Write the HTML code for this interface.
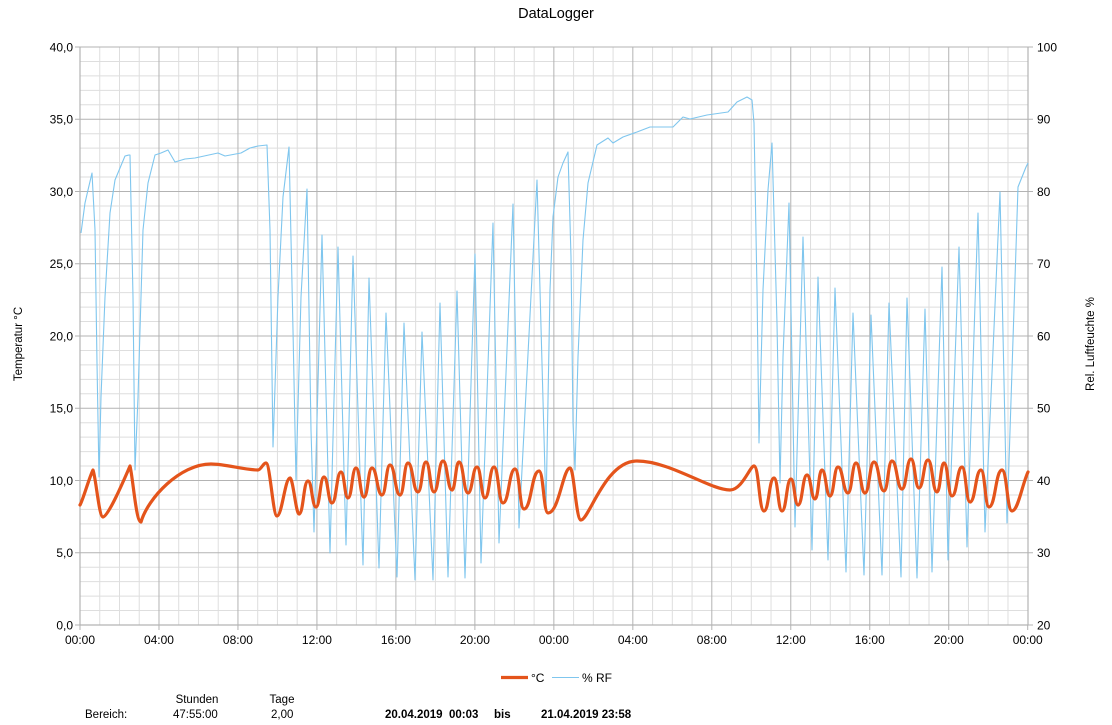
<!DOCTYPE html>
<html>
<head>
<meta charset="utf-8">
<style>
html,body{margin:0;padding:0;background:#fff;}
svg{display:block;font-family:"Liberation Sans",sans-serif;}
</style>
</head>
<body>
<svg width="1112" height="725" viewBox="0 0 1112 725" xmlns="http://www.w3.org/2000/svg">
<rect width="1112" height="725" fill="#fff"/>
<text x="556" y="18" font-size="14.5" text-anchor="middle" fill="#000">DataLogger</text>

<path fill="none" stroke="#dedede" stroke-width="1" d="M99.74 47V625M119.49 47V625M139.23 47V625M178.72 47V625M198.46 47V625M218.21 47V625M257.70 47V625M277.44 47V625M297.18 47V625M336.67 47V625M356.42 47V625M376.16 47V625M415.65 47V625M435.39 47V625M455.14 47V625M494.62 47V625M514.37 47V625M534.11 47V625M573.60 47V625M593.34 47V625M613.09 47V625M652.58 47V625M672.32 47V625M692.06 47V625M731.55 47V625M751.30 47V625M771.04 47V625M810.53 47V625M830.27 47V625M850.02 47V625M889.50 47V625M909.25 47V625M928.99 47V625M968.48 47V625M988.22 47V625M1007.97 47V625M80 610.55H1028M80 596.1H1028M80 581.65H1028M80 567.2H1028M80 538.3H1028M80 523.85H1028M80 509.4H1028M80 494.95H1028M80 466.05H1028M80 451.6H1028M80 437.15H1028M80 422.7H1028M80 393.8H1028M80 379.35H1028M80 364.9H1028M80 350.45H1028M80 321.55H1028M80 307.1H1028M80 292.65H1028M80 278.2H1028M80 249.3H1028M80 234.85H1028M80 220.4H1028M80 205.95H1028M80 177.05H1028M80 162.6H1028M80 148.15H1028M80 133.7H1028M80 104.8H1028M80 90.35H1028M80 75.9H1028M80 61.45H1028"/>

<path fill="none" stroke="#b3b3b3" stroke-width="1" d="M158.98 47V625M237.95 47V625M316.93 47V625M395.90 47V625M474.88 47V625M553.86 47V625M632.83 47V625M711.81 47V625M790.78 47V625M869.76 47V625M948.74 47V625M80 47H1028M80 119.25H1028M80 191.5H1028M80 263.75H1028M80 336H1028M80 408.25H1028M80 480.5H1028M80 552.75H1028"/>

<path fill="none" stroke="#b3b3b3" stroke-width="1.2" d="M80 47V625H1028V47"/>

<path fill="none" stroke="#b3b3b3" stroke-width="1" d="M75 47H80M75 119.25H80M75 191.5H80M75 263.75H80M75 336H80M75 408.25H80M75 480.5H80M75 552.75H80M75 625H80M1028 47H1033M1028 119.25H1033M1028 191.5H1033M1028 263.75H1033M1028 336H1033M1028 408.25H1033M1028 480.5H1033M1028 552.75H1033M1028 625H1033M80 625V630M158.98 625V630M237.95 625V630M316.93 625V630M395.90 625V630M474.88 625V630M553.86 625V630M632.83 625V630M711.81 625V630M790.78 625V630M869.76 625V630M948.74 625V630M1027.71 625V630"/>

<g font-size="12" fill="#000" text-anchor="end">
<text x="73" y="51.5">40,0</text>
<text x="73" y="123.5">35,0</text>
<text x="73" y="196">30,0</text>
<text x="73" y="268">25,0</text>
<text x="73" y="340.5">20,0</text>
<text x="73" y="412.5">15,0</text>
<text x="73" y="485">10,0</text>
<text x="73" y="557">5,0</text>
<text x="73" y="629.5">0,0</text>
</g>

<g font-size="12" fill="#000" text-anchor="start">
<text x="1037" y="51.5">100</text>
<text x="1037" y="123.5">90</text>
<text x="1037" y="196">80</text>
<text x="1037" y="268">70</text>
<text x="1037" y="340.5">60</text>
<text x="1037" y="412.5">50</text>
<text x="1037" y="485">40</text>
<text x="1037" y="557">30</text>
<text x="1037" y="629.5">20</text>
</g>

<g font-size="12" fill="#000" text-anchor="middle">
<text x="80" y="644">00:00</text>
<text x="158.98" y="644">04:00</text>
<text x="237.95" y="644">08:00</text>
<text x="316.93" y="644">12:00</text>
<text x="395.90" y="644">16:00</text>
<text x="474.88" y="644">20:00</text>
<text x="553.86" y="644">00:00</text>
<text x="632.83" y="644">04:00</text>
<text x="711.81" y="644">08:00</text>
<text x="790.78" y="644">12:00</text>
<text x="869.76" y="644">16:00</text>
<text x="948.74" y="644">20:00</text>
<text x="1027.71" y="644">00:00</text>
</g>

<text transform="translate(22,344) rotate(-90)" font-size="11.5" text-anchor="middle" fill="#000">Temperatur °C</text>
<text transform="translate(1094,344) rotate(-90)" font-size="11.5" text-anchor="middle" fill="#000">Rel. Luftfeuchte %</text>

<polyline fill="none" stroke="#7fc6ee" stroke-width="1.1" stroke-linejoin="round" points="81,233 85,203 88,190 92,173 95,230 97,363 99,477 101,397 105,297 110,213 115,180 120,168 125,156 129,155 130,155 133,297 135,470 138,397 143,230 148,183 155,155 161,153 168,150 175,162 185,159 195,158 218,153 225,156 241,153 250,148 258,146 267,145 270,230 273,447 278,297 283,197 289,147 293,330 296,480 301,297 307,189 311,430 314,532 322,235 330,553 338,247 346,545 353,256 363,565 369,278 379,568 386,313 397,577 404,323 415,580 422,332 433,580 440,303 448,577 457,291 465,578 475,254 481,563 493,223 499,543 513,204 519,528 537,180 546,510 550,290 553,217 558,177 563,163 568,152 571,257 573,423 575,470 578,357 583,240 588,183 597,145 608,138 613,143 623,137 637,132 650,127 673,127 683,117 690,119 707,115 728,112 737,102 747,97 752,100 754,123 757,290 759,443 763,290 768,190 772,143 777,323 780,483 783,357 789,203 792,363 795,527 803,237 812,550 818,277 828,560 835,288 846,572 853,313 864,575 871,315 882,575 889,303 901,577 907,298 917,578 925,309 932,572 942,267 948,560 959,247 967,547 978,213 985,532 1000,192 1007,523 1018,187 1026,167 1028,163"/>

<path fill="none" stroke="#e4541b" stroke-width="3.2" stroke-linejoin="round" stroke-linecap="round" d="M80,505 C83,500 89,478 93,470 C96,478 99,517 103,517 C108,517 124,480 130,466 C133,478 136,522 141,522 C148,498 180,464 211,464 C226,464 244,470 258,470 C261,470 263,463 266,463 C270,463 273,516 277,516 C282,516 285,478 290,478 C293,478 296,514 299,514 C303.5,514 303.5,481 308,481 C312,481 312,507 316,507 C320,507 320,477 324,477 C328,477 328,503 332,503 C336.5,503 336.5,472 341,472 C344.5,472 344.5,498 348,498 C352,498 352,468 356,468 C360,468 360,497 364,497 C368,497 368,468 372,468 C377,468 377,495 382,495 C386,495 386,465 390,465 C395,465 395,495 400,495 C404,495 404,463 408,463 C413,463 413,492 418,492 C422,492 422,462 426,462 C430,462 430,492 434,492 C438.5,492 438.5,461 443,461 C447.5,461 447.5,490 452,490 C455.5,490 455.5,462 459,462 C463.5,462 463.5,493 468,493 C472.5,493 472.5,467 477,467 C481,467 481,498 485,498 C489.5,498 489.5,467 494,467 C498.5,467 498.5,503 503,503 C509,503 509,469 515,469 C519.5,469 519.5,509 524,509 C531.5,509 531.5,471 539,471 C543.5,471 543.5,513 548,513 C559,513 563,468 570,468 C574,468 576,520 581,520 C589,520 605,461 637,461 C670,461 710,490 730,490 C742,490 750,466 754,466 C759,466 759,511 764,511 C769,511 769,478 774,478 C778,478 778,511 782,511 C786.5,511 786.5,479 791,479 C794.5,479 794.5,505 798,505 C802.5,505 802.5,475 807,475 C811,475 811,499 815,499 C818.5,499 818.5,470 822,470 C826,470 826,496 830,496 C834,496 834,467 838,467 C843,467 843,493 848,493 C852,493 852,463 856,463 C860.5,463 860.5,493 865,493 C869.5,493 869.5,462 874,462 C879,462 879,491 884,491 C888,491 888,461 892,461 C897,461 897,489 902,489 C906.5,489 906.5,459 911,459 C915,459 915,488 919,488 C923.5,488 923.5,460 928,460 C932.5,460 932.5,492 937,492 C940.5,492 940.5,463 944,463 C948,463 948,496 952,496 C957,496 957,467 962,467 C966,467 966,502 970,502 C975.5,502 975.5,470 981,470 C985,470 985,507 989,507 C995.5,507 995.5,470 1002,470 C1007,470 1007,511 1012,511 C1018,511 1022,485 1028,472"/>

<line x1="501" y1="677.5" x2="528" y2="677.5" stroke="#e4541b" stroke-width="3.2"/>
<text x="531" y="682" font-size="12" fill="#000">°C</text>
<line x1="552" y1="677.5" x2="579" y2="677.5" stroke="#7fc6ee" stroke-width="1.1"/>
<text x="582" y="682" font-size="12" fill="#000">% RF</text>

<g font-size="11.5" fill="#000">
<text x="197" y="703" text-anchor="middle">Stunden</text>
<text x="282" y="703" text-anchor="middle">Tage</text>
<text x="85" y="718">Bereich:</text>
<text x="173" y="718">47:55:00</text>
<text x="271" y="718">2,00</text>
<text x="385" y="718" font-weight="bold" xml:space="preserve">20.04.2019  00:03</text>
<text x="494" y="718" font-weight="bold">bis</text>
<text x="541" y="718" font-weight="bold">21.04.2019 23:58</text>
</g>
</svg>
</body>
</html>
